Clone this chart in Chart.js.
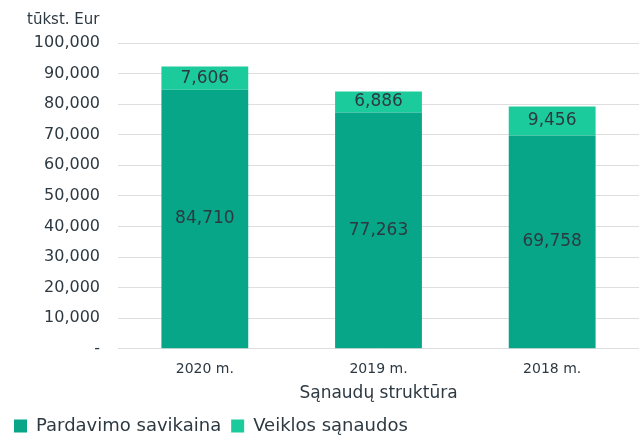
<!DOCTYPE html>
<html>
<head>
<meta charset="utf-8">
<script src="https://cdn.jsdelivr.net/npm/chart.js@4"></script>
<style>
  html, body { margin: 0; padding: 0; background: #fff; }
  #wrap { width: 639px; height: 435px; position: relative; }
</style>
</head>
<body>
<div id="wrap"><canvas id="myChart"></canvas></div>
<script>
'use strict';

// <------------------ DATA ------------------>

let years = ['2020 m.', '2019 m.', '2018 m.'];
let costOfSales = [84710, 77263, 69758];
let operatingCosts = [7606, 6886, 9456];
let seriesNames = ['Pardavimo savikaina', 'Veiklos sąnaudos'];
let unitLabel = 'tūkst. Eur';
let axisTitle = 'Sąnaudų struktūra';

let fontName = '"DejaVu Sans", sans-serif';
let textColor = '#2d3942';

// <------------------ PLUGINS ------------------>

// draws the numbers in the middle of each bar piece
let barLabels = {
  id: 'barLabels',
  afterDatasetsDraw(chart) {
    let ctx = chart.ctx;
    ctx.save();
    ctx.font = '17px ' + fontName;
    ctx.fillStyle = textColor;
    ctx.textAlign = 'center';
    ctx.textBaseline = 'middle';
    chart.data.datasets.forEach((ds, i) => {
      chart.getDatasetMeta(i).data.forEach((bar, j) => {
        let mid = (bar.y + bar.base) / 2;
        ctx.fillText(ds.data[j].toLocaleString('en-US'), bar.x, mid);
      });
    });
    ctx.restore();
  }
};

// unit text above the y axis
let unitText = {
  id: 'unitText',
  afterDraw(chart) {
    let ctx = chart.ctx;
    ctx.save();
    ctx.font = '15px ' + fontName;
    ctx.fillStyle = textColor;
    ctx.textAlign = 'left';
    ctx.textBaseline = 'middle';
    ctx.fillText(unitLabel, 27, 20);
    ctx.restore();
  }
};

// <------------------ CHART ------------------>

let ctx = document.getElementById('myChart').getContext('2d');

let myChart = new Chart(ctx, {
  type: 'bar',
  data: {
    labels: years,
    datasets: [{
      label: seriesNames[0],
      data: costOfSales,
      backgroundColor: '#07a688',
      borderWidth: 0,
      barPercentage: 0.5,
      categoryPercentage: 1
    },
    {
      label: seriesNames[1],
      data: operatingCosts,
      backgroundColor: '#1ccb9c',
      borderWidth: 0,
      barPercentage: 0.5,
      categoryPercentage: 1
    }]
  },
  options: {
    responsive: true,
    maintainAspectRatio: false,
    animation: false,
    layout: { padding: { top: 43, right: 0, left: 4, bottom: -10 } },
    scales: {
      x: {
        stacked: true,
        grid: { display: false },
        border: { display: false },
        ticks: { color: textColor, font: { family: fontName, size: 14 }, padding: 4 },
        title: {
          display: true,
          text: axisTitle,
          color: textColor,
          font: { family: fontName, size: 17 },
          padding: { top: 2, bottom: 3 }
        }
      },
      y: {
        stacked: true,
        min: 0,
        max: 100000,
        afterFit: (scale) => { scale.width = 114; },
        grid: { color: '#dedede', drawTicks: false, lineWidth: 1 },
        border: { display: false },
        ticks: {
          stepSize: 10000,
          color: textColor,
          padding: 18,
          font: { family: fontName, size: 16 },
          callback: (v) => v === 0 ? '-' : v.toLocaleString('en-US')
        }
      }
    },
    plugins: {
      legend: {
        position: 'bottom',
        align: 'start',
        labels: {
          boxWidth: 13,
          boxHeight: 13,
          padding: 10,
          color: textColor,
          font: { family: fontName, size: 18 }
        }
      },
      tooltip: { enabled: false }
    }
  },
  plugins: [barLabels, unitText]
});
</script>
</body>
</html>
